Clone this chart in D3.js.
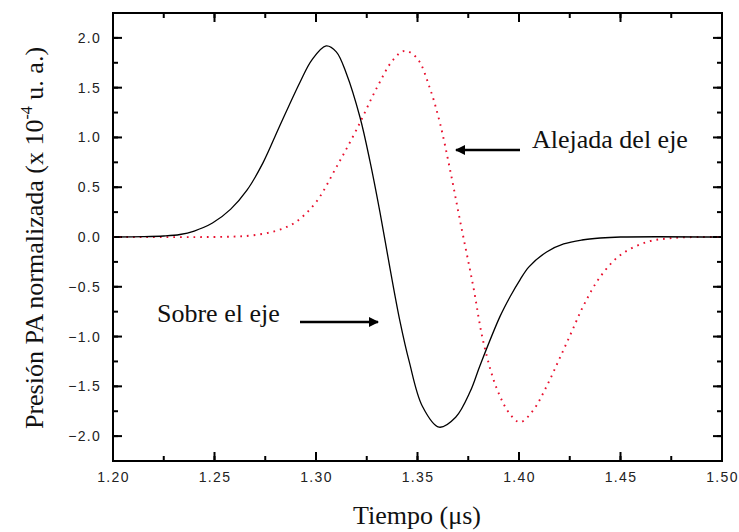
<!DOCTYPE html>
<html>
<head>
<meta charset="utf-8" />
<title>Presion PA normalizada</title>
<script src="https://d3js.org/d3.v7.min.js"></script>
<style>
  body { margin: 0; padding: 0; background: #ffffff; }
  svg { display: block; }
  .tick text { font-family: "Liberation Sans", Arial, sans-serif; font-size: 14px; letter-spacing: 1.3px; fill: #222; }
  .lbl { font-family: "Liberation Serif", "Times New Roman", serif; font-size: 26px; fill: #111; }
</style>
</head>
<body>
<div id="chart"></div>
<script>

// tiempo (us) y presion (x 1e-4 u.a.)
const sobreT = [1.200, 1.215, 1.225, 1.233, 1.240, 1.249, 1.258, 1.266, 1.274, 1.282, 1.292, 1.298, 1.305, 1.310, 1.315, 1.3217, 1.3266, 1.3315, 1.3365, 1.3414, 1.3459, 1.3524, 1.3606, 1.3688, 1.3760, 1.3808, 1.3906, 1.3956, 1.4005, 1.4049, 1.4136, 1.4220, 1.4310, 1.4400, 1.4500, 1.5000]
const sobreV = [0.000, 0.003, 0.010, 0.025, 0.060, 0.140, 0.280, 0.470, 0.750, 1.110, 1.550, 1.780, 1.920, 1.860, 1.640, 1.200, 0.760, 0.250, -0.320, -0.850, -1.250, -1.700, -1.910, -1.810, -1.550, -1.290, -0.800, -0.600, -0.430, -0.300, -0.150, -0.070, -0.030, -0.010, 0.000, 0.000]

const alejadaT = [1.200, 1.255, 1.268, 1.280, 1.290, 1.300, 1.310, 1.320, 1.330, 1.338, 1.3438, 1.350, 1.356, 1.361, 1.366, 1.371, 1.3775, 1.3824, 1.389, 1.3956, 1.4005, 1.407, 1.4136, 1.420, 1.426, 1.432, 1.440, 1.450, 1.463, 1.476, 1.490, 1.500]
const alejadaV = [0.000, 0.002, 0.015, 0.060, 0.150, 0.350, 0.700, 1.080, 1.500, 1.780, 1.870, 1.790, 1.500, 1.150, 0.680, 0.160, -0.500, -1.050, -1.520, -1.780, -1.860, -1.740, -1.500, -1.220, -0.950, -0.680, -0.400, -0.180, -0.050, -0.010, 0.000, 0.000]

const xTicks = [1.20, 1.25, 1.30, 1.35, 1.40, 1.45, 1.50]
const yTicks = [-2.0, -1.5, -1.0, -0.5, 0.0, 0.5, 1.0, 1.5, 2.0]

const width = 739, height = 532
const margin = {top: 13, right: 17, bottom: 71, left: 113}
const w = width - margin.left - margin.right
const h = height - margin.top - margin.bottom

const svg = d3.select("#chart").append("svg")
  .attr("width", width)
  .attr("height", height)

const g = svg.append("g")
  .attr("transform", "translate(" + margin.left + "," + margin.top + ")")

const x = d3.scaleLinear().domain([1.2, 1.5]).range([0, w])
const y = d3.scaleLinear().domain([-2.25, 2.25]).range([h, 0])

const minorX = d3.range(1.2, 1.5001, 0.025)
const minorY = d3.range(-2.0, 2.0001, 0.25)

// ticks hacia dentro en los cuatro lados
function tickMarks(sel, scale, vals, len, orient) {
  vals.forEach(v => {
    const p = scale(v)
    if (orient == "bottom") sel.append("line").attr("x1", p).attr("x2", p).attr("y1", h).attr("y2", h - len)
    if (orient == "top") sel.append("line").attr("x1", p).attr("x2", p).attr("y1", 0).attr("y2", len)
    if (orient == "left") sel.append("line").attr("x1", 0).attr("x2", len).attr("y1", p).attr("y2", p)
    if (orient == "right") sel.append("line").attr("x1", w).attr("x2", w - len).attr("y1", p).attr("y2", p)
  })
}

const ticks = g.append("g").attr("stroke", "#000").attr("stroke-width", 2)
;["bottom", "top"].forEach(o => {
  tickMarks(ticks, x, minorX, 5, o)
  tickMarks(ticks, x, xTicks, 9, o)
})
;["left", "right"].forEach(o => {
  tickMarks(ticks, y, minorY, 5, o)
  tickMarks(ticks, y, yTicks, 9, o)
})

// etiquetas de los ejes (axis de d3 sin lineas)
const xAxis = g.append("g")
  .attr("transform", "translate(0," + h + ")")
  .call(d3.axisBottom(x).tickValues(xTicks).tickFormat(d3.format(".2f")).tickSize(0).tickPadding(11))
xAxis.select(".domain").remove()

const yAxis = g.append("g")
  .call(d3.axisLeft(y).tickValues(yTicks).tickFormat(d3.format(".1f")).tickSize(0).tickPadding(12))
yAxis.select(".domain").remove()

// curvas
const line = d3.line()
  .x(d => x(d[0]))
  .y(d => y(d[1]))
  .curve(d3.curveCatmullRom.alpha(0.5))

const plot = g.append("g")
plot.append("path")
  .datum(alejadaT.map((t, i) => [t, alejadaV[i]]))
  .attr("fill", "none")
  .attr("stroke", "#e8102e")
  .attr("stroke-width", 1.9)
  .attr("stroke-dasharray", "1.7,5")
  .attr("d", line)

plot.append("path")
  .datum(sobreT.map((t, i) => [t, sobreV[i]]))
  .attr("fill", "none")
  .attr("stroke", "#000")
  .attr("stroke-width", 1.3)
  .attr("d", line)

// marco
g.append("rect")
  .attr("width", w).attr("height", h)
  .attr("fill", "none").attr("stroke", "#000").attr("stroke-width", 2)

// flechas
svg.append("defs").append("marker")
  .attr("id", "head")
  .attr("viewBox", "0 0 10 10")
  .attr("refX", 9).attr("refY", 5)
  .attr("markerWidth", 5).attr("markerHeight", 4)
  .attr("orient", "auto")
  .append("path").attr("d", "M0,0 L10,5 L0,10 z").attr("fill", "#000")

svg.append("line")
  .attr("x1", 520).attr("y1", 150).attr("x2", 456).attr("y2", 150)
  .attr("stroke", "#000").attr("stroke-width", 2.5).attr("marker-end", "url(#head)")
svg.append("text").attr("class", "lbl")
  .attr("x", 532).attr("y", 148).text("Alejada del eje")

svg.append("line")
  .attr("x1", 300).attr("y1", 322).attr("x2", 378).attr("y2", 322)
  .attr("stroke", "#000").attr("stroke-width", 2.5).attr("marker-end", "url(#head)")
svg.append("text").attr("class", "lbl")
  .attr("x", 157).attr("y", 322).text("Sobre el eje")

// titulos de los ejes
svg.append("text").attr("class", "lbl")
  .attr("x", 417).attr("y", 524)
  .attr("text-anchor", "middle")
  .text("Tiempo (\u03bcs)")

const yl = svg.append("text").attr("class", "lbl")
  .attr("transform", "translate(43,238) rotate(-90)")
  .attr("text-anchor", "middle")
yl.append("tspan").text("Presión PA normalizada (x 10")
yl.append("tspan").attr("dy", -11).attr("font-size", 16).text("-4")
yl.append("tspan").attr("dy", 11).text(" u. a.)")

</script>
</body>
</html>
